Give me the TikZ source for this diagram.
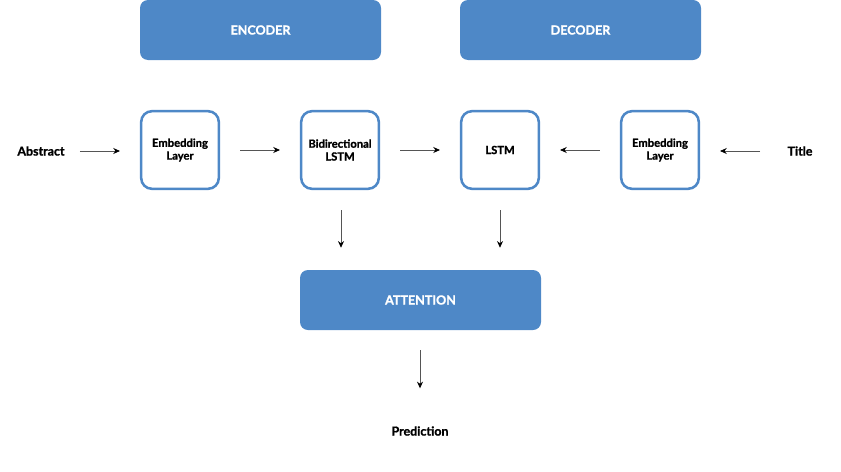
\documentclass[tikz,border=0pt]{standalone}
\usepackage{fontspec}
\setmainfont{Lato}[BoldFeatures={FakeBold=1.2}]
\usetikzlibrary{arrows.meta,positioning}
\definecolor{block}{HTML}{4E88C7}
\definecolor{wire}{HTML}{555555}

\begin{document}
\begin{tikzpicture}[x=0.75pt,y=-0.75pt,
  head/.style={fill=block,rounded corners=6pt,minimum width=180.75pt,minimum height=45pt,
    font=\fontsize{9.4}{11}\selectfont\bfseries,text=white},
  layer/.style={draw=block,line width=1.9pt,rounded corners=8pt,minimum width=58.2pt,
    minimum height=58.2pt,align=center,font=\fontsize{8.4}{9.6}\selectfont\bfseries},
  word/.style={font=\fontsize{9.3}{11}\selectfont\bfseries},
  flow/.style={wire,line width=0.6pt,-{Stealth[black,length=5pt,width=4.5pt]}}]
  \useasboundingbox (0,0) rectangle (841,471);
  % top headers
  \node[head] (enc) at (260.5,30) {ENCODER};
  \node[head] (dec) at (580.5,30) {DECODER};
  % middle row
  \node[word] (abs) at (41,151) {Abstract};
  \node[layer] (embA) at (180,150) {Embedding\\Layer};
  \node[layer] (bilstm) at (340,150) {Bidirectional\\LSTM};
  \node[layer] (lstm) at (500,150) {LSTM};
  \node[layer] (embT) at (660,150) {Embedding\\Layer};
  \node[word] (title) at (800,151) {Title};
  % bottom
  \node[head] (attn) at (420.5,300) {ATTENTION};
  \node[word] (pred) at (420,431) {Prediction};
  % arrows
  \draw[flow,shorten <=8pt,shorten >=15pt] (abs.east) -- (abs.east -| embA.west);
  \draw[flow,shorten <=15pt,shorten >=15pt] (embA) -- (bilstm);
  \draw[flow,shorten <=15pt,shorten >=15pt] (bilstm) -- (lstm);
  \draw[flow,shorten <=15pt,shorten >=15pt] (embT) -- (lstm);
  \draw[flow,shorten <=30pt,shorten >=15pt] (title.center) -- (title.center -| embT.east);
  \draw[flow,shorten <=15pt,shorten >=16.5pt] ([xshift=0.75pt]bilstm.south) -- ([xshift=0.75pt]bilstm.south |- attn.north);
  \draw[flow,shorten <=15pt,shorten >=16.5pt] (lstm.south) -- (lstm.south |- attn.north);
  \draw[flow,shorten <=15pt,shorten >=25pt] (attn.south -| pred.north) -- (pred.north);
\end{tikzpicture}
\end{document}
